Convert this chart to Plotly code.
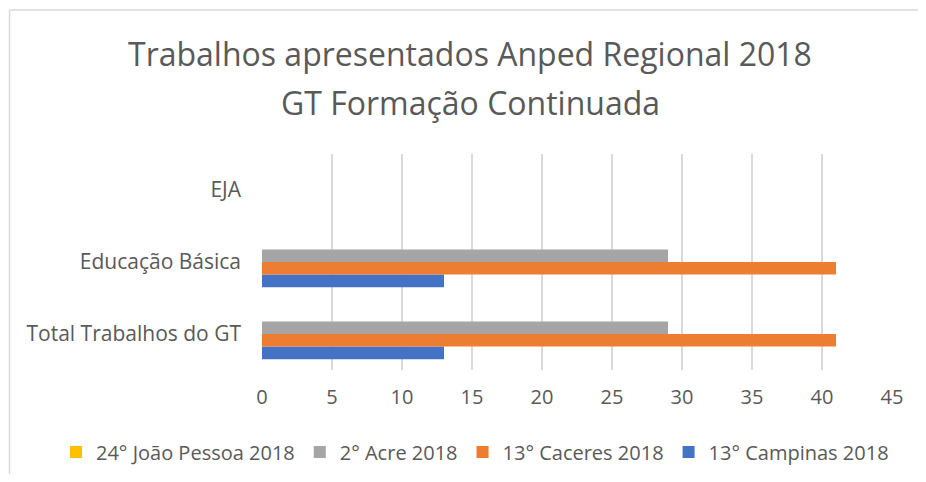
import plotly.graph_objects as go

categories = ["Total Trabalhos do GT", "Educação Básica", "EJA"]
series_names = ["13° Campinas 2018", "13° Caceres 2018", "2° Acre 2018", "24° João Pessoa 2018"]
campinas = [13, 13, 0]
caceres = [41, 41, 0]
acre = [29, 29, 0]
joao_pessoa = [0, 0, 0]
colors = ["#4472C4", "#ED7D31", "#A5A5A5", "#FFC000"]
tick_vals = [0, 5, 10, 15, 20, 25, 30, 35, 40, 45]

font_family = "'Open Sans', sans-serif"
text_color = "#595959"

# screen-space plot area (page body has an 8px margin)
PX0, PX1, PY0, PY1 = 262, 892, 154, 370
W = PX1 - PX0
H = PY1 - PY0
FW, FH = 918, 466


def px(x):
    return (x - PX0) / W


def py(y):
    return (PY1 - y) / H


fig = go.Figure()
for name, vals, col in zip(series_names, [campinas, caceres, acre, joao_pessoa], colors):
    fig.add_trace(go.Bar(y=categories, x=vals, name=name, orientation="h",
                         marker=dict(color=col, line=dict(width=0))))

fig.update_layout(
    width=FW, height=FH,
    margin=dict(l=PX0 - 8, r=FW - (PX1 - 8), t=PY0 - 8, b=FH - (PY1 - 8), autoexpand=False),
    paper_bgcolor="white", plot_bgcolor="white",
    barmode="group", bargap=0.3, bargroupgap=0,
    font=dict(family=font_family, color=text_color, size=20),
    showlegend=True,
    legend=dict(orientation="h", traceorder="reversed", x=px(56), xanchor="left",
                y=py(452), yanchor="middle", font=dict(size=20, color=text_color),
                itemwidth=30, tracegroupgap=0),
    xaxis=dict(range=[0, 45], tickvals=tick_vals, showgrid=True, gridcolor="#D9D9D9",
               gridwidth=1.5, zeroline=False, showline=False, ticks="",
               ticklabelstandoff=13, tickfont=dict(size=20, color=text_color)),
    yaxis=dict(showgrid=False, zeroline=False, showline=False, ticks="",
               ticklabelstandoff=20, tickfont=dict(size=21, color=text_color)),
)

fig.add_annotation(text="Trabalhos apresentados Anped Regional 2018", xref="paper", yref="paper",
                   x=px(470), y=py(54), xanchor="center", yanchor="middle",
                   showarrow=False, font=dict(size=32, color=text_color, family=font_family))
fig.add_annotation(text="GT Formação Continuada", xref="paper", yref="paper",
                   x=px(470), y=py(103), xanchor="center", yanchor="middle",
                   showarrow=False, font=dict(size=32, color=text_color, family=font_family))

# chart frame: top and left edges (the rest is outside the picture)
fig.add_shape(type="line", xref="paper", yref="paper",
              x0=px(9.5), x1=1.3, y0=py(10), y1=py(10),
              line=dict(color="#D9D9D9", width=1.5), layer="below")
fig.add_shape(type="line", xref="paper", yref="paper",
              x0=px(9.5), x1=px(9.5), y0=-1.0, y1=py(10),
              line=dict(color="#D9D9D9", width=1.5), layer="below")

fig.write_html("out.html")
